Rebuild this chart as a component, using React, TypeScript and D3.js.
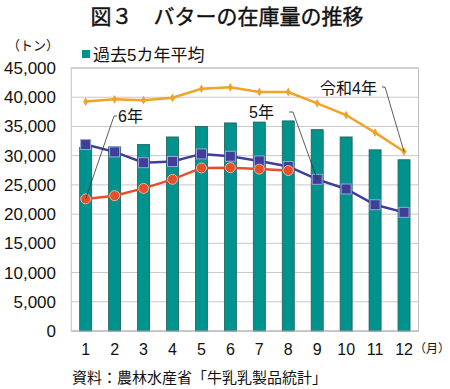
import React, { useEffect, useRef } from 'react';
import * as d3 from 'd3';

const months = ['1', '2', '3', '4', '5', '6', '7', '8', '9', '10', '11', '12'];
const avg5 = [31400, 31500, 31900, 33200, 35000, 35600, 35750, 35950, 34450, 33200, 31000, 29300];
const r4 = [39250, 39650, 39500, 39900, 41450, 41700, 40900, 40900, 38950, 36950, 33950, 30700];
const r5 = [31900, 30650, 28800, 29000, 30300, 29900, 29100, 28150, 25950, 24300, 21600, 20300];
const r6 = [22600, 23150, 24400, 25950, 27900, 27950, 27700, 27450];
const yTicks = [0, 5000, 10000, 15000, 20000, 25000, 30000, 35000, 40000, 45000];

const FONT = '"Liberation Sans", "Noto Sans CJK JP", sans-serif';

const App = () => {
  const ref = useRef<SVGSVGElement>(null);

  useEffect(() => {
    const svg = d3.select(ref.current);
    svg.selectAll('*').remove();
    const left = 71.2, right = 418.5, top = 68, bottom = 331;

    const x = d3.scaleBand().domain(months).range([left, right]);
    const y = d3.scaleLinear().domain([0, 45000]).range([bottom, top]);
    const cx = (i: number) => (x(months[i]) as number) + x.bandwidth() / 2;

    // title
    svg.append('text')
      .attr('x', 227).attr('y', 24)
      .attr('text-anchor', 'middle')
      .attr('font-size', 21).attr('font-weight', 'normal')
      .attr('font-family', FONT).attr('fill', '#111')
      .attr('stroke', '#111').attr('stroke-width', 0.4)
      .text('図３　バターの在庫量の推移');

    // grid
    svg.append('g').selectAll('line')
      .data(yTicks.slice(1))
      .enter().append('line')
      .attr('x1', left).attr('x2', right)
      .attr('y1', d => y(d)).attr('y2', d => y(d))
      .attr('stroke', '#c8c8c8').attr('stroke-width', 1);

    svg.append('rect')
      .attr('x', left).attr('y', top)
      .attr('width', right - left).attr('height', bottom - top)
      .attr('fill', 'none').attr('stroke', '#c0c0c0');

    // y labels
    svg.append('g').selectAll('text')
      .data(yTicks)
      .enter().append('text')
      .attr('x', 56).attr('y', d => y(d) + 6)
      .attr('text-anchor', 'end')
      .attr('font-size', 17).attr('font-family', FONT).attr('fill', '#111')
      .text(d => d3.format(',')(d));

    svg.append('text')
      .attr('x', 33).attr('y', 50).attr('text-anchor', 'middle')
      .attr('font-size', 13).attr('font-family', FONT).attr('fill', '#111')
      .text('（トン）');

    // bars
    svg.append('g').selectAll('rect')
      .data(avg5)
      .enter().append('rect')
      .attr('x', (d, i) => cx(i) - 6)
      .attr('width', 12)
      .attr('y', d => y(d))
      .attr('height', d => bottom - y(d))
      .attr('fill', '#00928c')
      .attr('stroke', '#1f5e5b').attr('stroke-width', 0.8);

    svg.append('line')
      .attr('x1', left).attr('x2', right)
      .attr('y1', bottom).attr('y2', bottom)
      .attr('stroke', '#b0b0b0');

    const line = d3.line<number>().x((d, i) => cx(i)).y(d => y(d));

    // 令和4年
    svg.append('path').datum(r4)
      .attr('d', line).attr('fill', 'none')
      .attr('stroke', '#f0a22a').attr('stroke-width', 2.5);
    svg.append('g').selectAll('path')
      .data(r4)
      .enter().append('path')
      .attr('transform', (d, i) => `translate(${cx(i)},${y(d)})`)
      .attr('d', d3.symbol(d3.symbolDiamond, 22)())
      .attr('fill', '#f0a22a');

    // 5年
    svg.append('path').datum(r5)
      .attr('d', line).attr('fill', 'none')
      .attr('stroke', '#3f3f9a').attr('stroke-width', 2.5);
    svg.append('g').selectAll('rect')
      .data(r5)
      .enter().append('rect')
      .attr('x', (d, i) => cx(i) - 5).attr('y', d => y(d) - 5)
      .attr('width', 10).attr('height', 10)
      .attr('fill', '#3f3f9a').attr('stroke', '#9aa6d6').attr('stroke-width', 1);

    // 6年
    svg.append('path').datum(r6)
      .attr('d', line).attr('fill', 'none')
      .attr('stroke', '#e4502a').attr('stroke-width', 2.5);
    svg.append('g').selectAll('circle')
      .data(r6)
      .enter().append('circle')
      .attr('cx', (d, i) => cx(i)).attr('cy', d => y(d))
      .attr('r', 5)
      .attr('fill', '#e4502a').attr('stroke', '#f4b0a0').attr('stroke-width', 1);

    // annotations
    const note = (label: string, tx: number, ty: number, lx: number, ly: number, px: number, py: number, hook: number) => {
      svg.append('text')
        .attr('x', tx).attr('y', ty)
        .attr('font-size', 16).attr('font-family', FONT).attr('fill', '#111')
        .text(label);
      svg.append('path')
        .attr('d', `M${lx + hook},${ly}L${lx},${ly}L${px},${py}`)
        .attr('fill', 'none').attr('stroke', '#333').attr('stroke-width', 0.8);
    };
    note('令和4年', 320, 94, 385, 87, cx(11), y(r4[11]), -3);
    note('5年', 249, 118, 293, 112, cx(8), y(r5[8]), -4);
    note('6年', 118, 122, 114, 116, cx(0), y(r6[0]), 3);

    // x labels
    svg.append('g').selectAll('text')
      .data(months)
      .enter().append('text')
      .attr('x', (d, i) => cx(i)).attr('y', 355)
      .attr('text-anchor', 'middle')
      .attr('font-size', 16).attr('font-family', FONT).attr('fill', '#111')
      .text(d => d);
    svg.append('text')
      .attr('x', 414).attr('y', 353)
      .attr('font-size', 12).attr('font-family', FONT).attr('fill', '#111')
      .text('（月）');

    // legend
    svg.append('rect')
      .attr('x', 82).attr('y', 50).attr('width', 8).attr('height', 8)
      .attr('fill', '#00928c');
    svg.append('text')
      .attr('x', 93).attr('y', 61)
      .attr('font-size', 17).attr('font-family', FONT).attr('fill', '#111')
      .text('過去5カ年平均');

    svg.append('text')
      .attr('x', 72).attr('y', 383)
      .attr('font-size', 15).attr('font-family', FONT).attr('fill', '#111')
      .text('資料：農林水産省「牛乳乳製品統計」');
  }, []);

  return (
    <svg ref={ref} width={450} height={389}
      style={{ position: 'absolute', left: 0, top: 0, background: '#fff' }} />
  );
};

export default App;
